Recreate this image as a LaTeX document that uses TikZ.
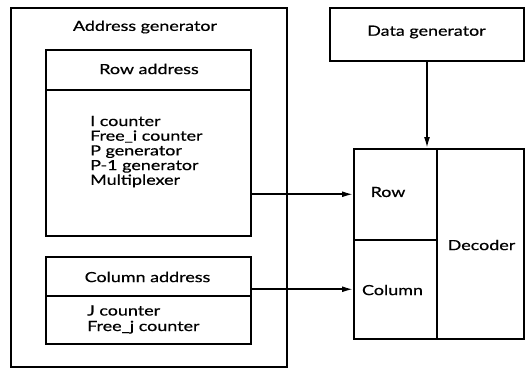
\documentclass[tikz,border=0pt]{standalone}
\usepackage{fontspec}
\setmainfont{Lato}[FakeStretch=1.28,FakeBold=0.6]
\usetikzlibrary{arrows.meta}
\begin{document}
\begin{tikzpicture}[x=1pt,y=-1pt,
  box/.style={draw,line width=1.5pt,inner sep=0pt,anchor=north west},
  lbl/.style={font=\fontsize{14}{14.7}\selectfont,inner sep=0pt},
  item/.style={lbl,anchor=base west},
  arr/.style={line width=1.7pt,-{Latex[length=11pt,width=6pt]}}]
\useasboundingbox (0,0) rectangle (525,378);
\node[box,line width=2pt,minimum width=276pt,minimum height=359pt] (ag) at (10,7) {};
\node[lbl] (agl) at (145,27) {Address generator};
\node[box,minimum width=205pt,minimum height=40pt] (rah) at (45,49) {};
\node[lbl] (rahl) at (149,69) {Row address};
\node[box,minimum width=205pt,minimum height=146pt] (rab) at (45,89) {};
\node[item] (r1) at (90,126) {I counter};
\node[item] (r2) at (90,140.7) {Free\_i counter};
\node[item] (r3) at (90,155.4) {P generator};
\node[item] (r4) at (90,170.1) {P-1 generator};
\node[item] (r5) at (90,184.8) {Multiplexer};
\node[box,minimum width=205pt,minimum height=39pt] (cah) at (45,256) {};
\node[lbl] (cahl) at (147.5,277) {Column address};
\node[box,minimum width=205pt,minimum height=48pt] (cab) at (45,295) {};
\node[item] (c1) at (87,315.5) {J counter};
\node[item] (c2) at (87,331) {Free\_j counter};
\node[box,line width=2pt,minimum width=194pt,minimum height=53pt] (dg) at (329,7) {};
\node[lbl] (dgl) at (426.5,32) {Data generator};
\node[box,minimum width=83pt,minimum height=91pt] (drow) at (353,148) {};
\node[lbl] (drowl) at (388,192) {Row};
\node[box,minimum width=83pt,minimum height=99pt] (dcol) at (353,239) {};
\node[lbl] (dcoll) at (392.5,290) {Column};
\node[box,minimum width=87pt,minimum height=190pt] (dec) at (436,148) {};
\node[lbl] (decl) at (481.5,245) {Decoder};
\draw[arr] (rab.east |- drow.west) -- (drow.west);
\draw[arr] (cah.east |- dcol.west) -- (dcol.west);
\draw[arr] (dg.south) -- (dg.south |- drow.north);
\end{tikzpicture}
\end{document}
